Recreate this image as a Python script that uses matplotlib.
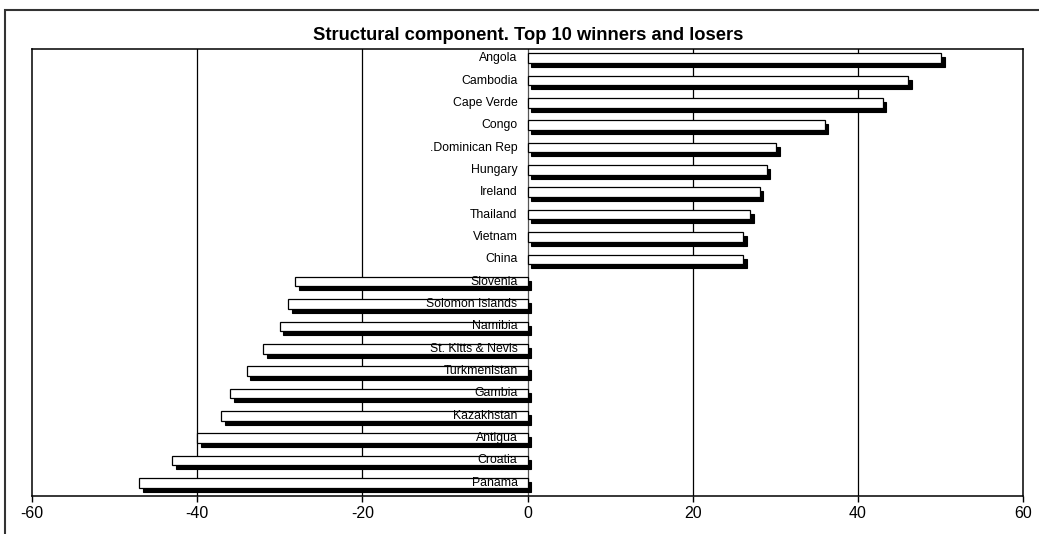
import matplotlib.pyplot as plt
import matplotlib.transforms as mtransforms
from matplotlib.patches import Rectangle

plt.rcParams['font.family'] = ['Liberation Sans', 'DejaVu Sans']
plt.rcParams['axes.unicode_minus'] = False

# Structural component, top 10 winners and losers (top to bottom)
countries = ['Angola', 'Cambodia', 'Cape Verde', 'Congo', '.Dominican Rep',
             'Hungary', 'Ireland', 'Thailand', 'Vietnam', 'China',
             'Slovenia', 'Solomon Islands', 'Namibia', 'St. Kitts & Nevis',
             'Turkmenistan', 'Gambia', 'Kazakhstan', 'Antigua', 'Croatia',
             'Panama']
values = [50.1, 46.1, 43.0, 36.0, 30.1, 29.0, 28.1, 27.0, 26.1, 26.1,
          -28.1, -29.0, -30.0, -32.0, -34.0, -36.0, -37.1, -40.0, -43.0,
          -47.0]
xticks = [-60, -40, -20, 0, 20, 40, 60]

fig = plt.figure(figsize=(10.39, 5.34), dpi=100)
ax = fig.add_axes([0.0308, 0.0712, 0.9538, 0.837])

# frame around the whole chart
fig.patches.append(Rectangle((5 / 1039, -0.05), 1.2, (534 - 10) / 534 + 0.05,
                             transform=fig.transFigure, fill=False,
                             edgecolor='#333333', linewidth=1.5))

pos = list(range(len(countries)))
h = 0.43

# shadow: same bars shifted right and down a few pixels
shadow = ax.transData + mtransforms.ScaledTranslation(0.035, -0.02, fig.dpi_scale_trans)
lift = ax.transData + mtransforms.ScaledTranslation(0.0, 0.02, fig.dpi_scale_trans)
ax.barh(pos, values, height=h, color='black', edgecolor='black',
        linewidth=0.8, transform=shadow, zorder=3)
ax.barh(pos, values, height=h, color='white', edgecolor='black',
        linewidth=0.9, transform=lift, zorder=4)

for p, name in zip(pos, countries):
    ax.text(-1.2, p, name, ha='right', va='center', fontsize=8.8,
            transform=lift, zorder=5)

ax.set_xlim(-60, 60)
ax.set_ylim(len(countries) - 0.5, -0.5)
ax.set_xticks(xticks)
ax.set_yticks([])
ax.tick_params(axis='x', direction='out', length=4, width=1,
               labelsize=11.5, pad=3)
for x in xticks[1:-1]:
    ax.axvline(x, color='black' if x != 0 else '#555555',
               linewidth=0.9, zorder=1)
for s in ax.spines.values():
    s.set_linewidth(1.1)

fig.text(0.508, 1 - 36 / 534, 'Structural component. Top 10 winners and losers',
         ha='center', va='center', fontsize=13.2, fontweight='bold')

fig.savefig('out.png', dpi=100)
